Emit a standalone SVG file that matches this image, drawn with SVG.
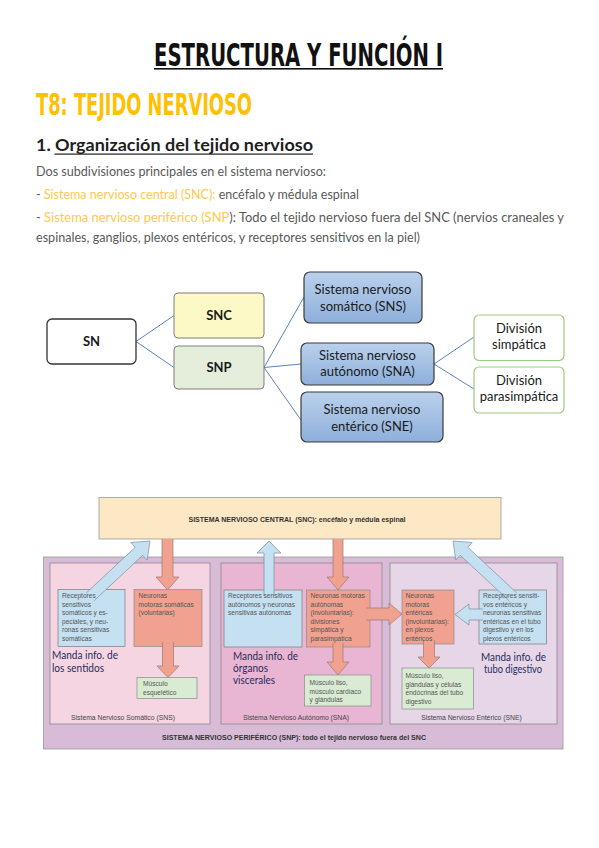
<svg xmlns="http://www.w3.org/2000/svg" width="599" height="848" viewBox="0 0 599 848">
<defs>
  <linearGradient id="blueGrad" x1="0" y1="0" x2="0" y2="1">
    <stop offset="0" stop-color="#BAD1EC"/>
    <stop offset="1" stop-color="#8EAFDB"/>
  </linearGradient>
  <style>
    .title{font-family:"DejaVu Sans Condensed","DejaVu Sans",sans-serif;font-weight:bold;}
    .body{font-family:Lato,"Liberation Sans",sans-serif;font-size:12.5px;fill:#5a5a5a;}
    .orange{fill:#FFC94D;}
    .head{font-family:Lato,"Liberation Sans",sans-serif;font-size:17.5px;font-weight:bold;fill:#1e1e1e;}
    .n1{font-family:Lato,"Liberation Sans",sans-serif;font-size:13px;fill:#1a1a1a;text-anchor:middle;}
    .b{font-weight:bold;}
    .conn{stroke:#5B83BF;stroke-width:1;fill:none;}
    .bluebox{fill:url(#blueGrad);stroke:#3b3b3b;stroke-width:1.2;}
    .divbox{fill:#ffffff;stroke:#9DCC7E;stroke-width:1.2;}
    .tiny{font-family:"Liberation Sans",Arial,sans-serif;font-size:6.6px;fill:#555;}
    .lbl{font-family:"Liberation Sans",Arial,sans-serif;font-size:6.8px;fill:#444;text-anchor:middle;}
    .big{font-family:"Liberation Sans",Arial,sans-serif;font-size:6.8px;font-weight:bold;fill:#333;}
    .manda{font-family:Lato,"Liberation Sans",sans-serif;font-size:11px;fill:#1F2D5C;}
    .rec{fill:#C4E0F1;stroke:#7a7a7a;stroke-width:0.7;}
    .mot{fill:#F0A190;stroke:#8a8a8a;stroke-width:0.7;}
    .mus{fill:#DAEBD3;stroke:#8a8a8a;stroke-width:0.7;}
    .arB{fill:#C4E0F1;stroke:#7d8e9a;stroke-width:0.7;}
    .arS{fill:#F0A190;stroke:#9a7a72;stroke-width:0.7;}
  </style>
</defs>
<rect width="599" height="848" fill="#ffffff"/>

<g id="header">
  <text class="title" x="154" y="66" font-size="32" fill="#111" textLength="289" lengthAdjust="spacingAndGlyphs">ESTRUCTURA Y FUNCIÓN I</text>
  <rect x="154" y="68" width="289" height="1.6" fill="#111"/>
  <text class="title" x="36" y="115" font-size="30" fill="#FFC000" textLength="216" lengthAdjust="spacingAndGlyphs">T8: TEJIDO NERVIOSO</text>
  <text class="head" x="36" y="151" textLength="277" lengthAdjust="spacingAndGlyphs">1. Organización del tejido nervioso</text>
  <rect x="54.5" y="153.5" width="258.5" height="1.2" fill="#1e1e1e"/>
  <text class="body" x="36" y="176" textLength="290" lengthAdjust="spacingAndGlyphs">Dos subdivisiones principales en el sistema nervioso:</text>
  <text class="body" x="36" y="199" textLength="323" lengthAdjust="spacingAndGlyphs">- <tspan class="orange">Sistema nervioso central (SNC):</tspan> encéfalo y médula espinal</text>
  <text class="body" x="36" y="222" textLength="528" lengthAdjust="spacingAndGlyphs">- <tspan class="orange">Sistema nervioso periférico (SNP</tspan>): Todo el tejido nervioso fuera del SNC (nervios craneales y</text>
  <text class="body" x="36" y="242" textLength="384" lengthAdjust="spacingAndGlyphs">espinales, ganglios, plexos entéricos, y receptores sensitivos en la piel)</text>
</g>

<g id="connectors-tree">
  <path class="conn" d="M136,341.5 L174,315.5"/>
  <path class="conn" d="M136,341.5 L174,367.5"/>
  <path class="conn" d="M264,367.5 L304,297"/>
  <path class="conn" d="M264,367.5 L301,364"/>
  <path class="conn" d="M264,367.5 L301,420"/>
  <path class="conn" d="M434,364 L474,337"/>
  <path class="conn" d="M434,364 L474,389"/>
</g>

<g id="node-SN">
  <rect x="47" y="319" width="89" height="45" rx="5" fill="#ffffff" stroke="#333" stroke-width="1.3"/>
  <text class="n1 b" x="91.5" y="346">SN</text>
</g>
<g id="node-SNC">
  <rect x="174" y="293" width="90" height="45" rx="4" fill="#FCF9C6" stroke="#7f7f7f" stroke-width="1"/>
  <text class="n1 b" x="219" y="320">SNC</text>
</g>
<g id="node-SNP">
  <rect x="174" y="346" width="90" height="43" rx="4" fill="#E4EEDB" stroke="#7f7f7f" stroke-width="1"/>
  <text class="n1 b" x="219" y="372">SNP</text>
</g>
<g id="node-SNS">
  <rect class="bluebox" x="304" y="272" width="118" height="51" rx="6"/>
  <text class="n1" x="363" y="294">Sistema nervioso</text>
  <text class="n1" x="363" y="311">somático (SNS)</text>
</g>
<g id="node-SNA">
  <rect class="bluebox" x="301" y="343" width="133" height="42" rx="6"/>
  <text class="n1" x="367.5" y="360">Sistema nervioso</text>
  <text class="n1" x="367.5" y="376">autónomo (SNA)</text>
</g>
<g id="node-SNE">
  <rect class="bluebox" x="301" y="392" width="142" height="50" rx="6"/>
  <text class="n1" x="372" y="414">Sistema nervioso</text>
  <text class="n1" x="372" y="431">entérico (SNE)</text>
</g>
<g id="node-simpatica">
  <rect class="divbox" x="474" y="315" width="90" height="45.5" rx="5"/>
  <text class="n1" x="519" y="333">División</text>
  <text class="n1" x="519" y="349">simpática</text>
</g>
<g id="node-parasimpatica">
  <rect class="divbox" x="474" y="367" width="90" height="46" rx="5"/>
  <text class="n1" x="519" y="385">División</text>
  <text class="n1" x="519" y="401">parasimpática</text>
</g>

<g id="figure2-frames">
  <rect x="99" y="497.5" width="402" height="41.5" fill="#FDE8C5" stroke="#9a9a9a" stroke-width="0.8"/>
  <text class="big" x="188.5" y="521.5" textLength="217" lengthAdjust="spacingAndGlyphs">SISTEMA NERVIOSO CENTRAL (SNC): encéfalo y médula espinal</text>
  <rect x="43.5" y="557" width="519.5" height="192" fill="#D7BBD7" stroke="#9a9a9a" stroke-width="0.8"/>
  <rect x="50" y="563" width="160" height="161" fill="#F6D5E3" stroke="#8a8a8a" stroke-width="0.8"/>
  <rect x="221" y="563" width="161" height="161" fill="#E8B6D2" stroke="#8a8a8a" stroke-width="0.8"/>
  <rect x="390" y="563" width="167" height="161" fill="#E6D6E8" stroke="#8a8a8a" stroke-width="0.8"/>
</g>

<g id="fig2-boxes">
  <rect class="rec" x="58" y="589.5" width="67" height="57"/>
  <rect class="mot" x="134" y="589.5" width="68" height="57"/>
  <rect class="mus" x="137" y="677.5" width="60" height="21"/>
  <rect class="rec" x="224" y="590" width="78" height="57"/>
  <rect class="mot" x="306.5" y="590" width="63.5" height="57"/>
  <rect class="mus" x="304.5" y="675" width="66.5" height="31"/>
  <rect class="mot" x="402" y="590" width="52" height="54"/>
  <rect class="rec" x="479" y="590" width="67.5" height="54"/>
  <rect class="mus" x="402" y="668" width="71.5" height="41"/>
</g>

<g id="fig2-arrows">
  <path class="arB" d="M86.25,592.98 L135.28,547.21 L130.85,542.46 L150,541 L147.21,560 L142.78,555.25 L93.75,601.02"/>
  <path class="arS" d="M162,539 L162,577 L156,577 L167.5,590 L179,577 L173,577 L173,539"/>
  <path class="arB" d="M264,596 L264,553 L257,553 L269,541 L281,553 L274,553 L274,596"/>
  <path class="arS" d="M333,539 L333,577 L327,577 L338,590 L349,577 L343,577 L343,539"/>
  <path class="arB" d="M516.75,592.98 L467.72,547.21 L472.15,542.46 L453,541 L455.79,560 L460.22,555.25 L509.25,601.02"/>
  <path class="arS" d="M366,608 L389,608 L389,603 L402,614 L389,625 L389,620 L366,620"/>
  <path class="arB" d="M483,609 L469,609 L469,604 L455,614.5 L469,625 L469,620 L483,620"/>
  <path class="arS" d="M162.5,642 L162.5,666 L157,666 L168,677.5 L179,666 L173.5,666 L173.5,642"/>
  <path class="arS" d="M333,643 L333,662 L327,662 L338,675 L349,662 L343,662 L343,643"/>
  <path class="arS" d="M423.5,640 L423.5,657 L418,657 L429,668 L440,657 L434.5,657 L434.5,640"/>
</g>

<g id="fig2-texts">
  <text class="tiny" x="62" y="598"><tspan x="62">Receptores</tspan><tspan x="62" dy="8.5">sensitivos</tspan><tspan x="62" dy="8.5">somáticos y es-</tspan><tspan x="62" dy="8.5">peciales, y neu-</tspan><tspan x="62" dy="8.5">ronas sensitivas</tspan><tspan x="62" dy="8.5">somáticas</tspan></text>
  <text class="tiny" x="138.5" y="598"><tspan x="138.5">Neuronas</tspan><tspan x="138.5" dy="8.5">motoras somáticas</tspan><tspan x="138.5" dy="8.5">(voluntarias)</tspan></text>
  <text class="tiny" x="143" y="686"><tspan x="143">Músculo</tspan><tspan x="143" dy="8.5">esquelético</tspan></text>
  <text class="tiny" x="228" y="598"><tspan x="228">Receptores sensitivos</tspan><tspan x="228" dy="8.5">autónomos y neuronas</tspan><tspan x="228" dy="8.5">sensitivas autónomas</tspan></text>
  <text class="tiny" x="310.5" y="598"><tspan x="310.5">Neuronas motoras</tspan><tspan x="310.5" dy="8.5">autónomas</tspan><tspan x="310.5" dy="8.5">(involuntarias):</tspan><tspan x="310.5" dy="8.5">divisiones</tspan><tspan x="310.5" dy="8.5">simpática y</tspan><tspan x="310.5" dy="8.5">parasimpática</tspan></text>
  <text class="tiny" x="309.5" y="685"><tspan x="309.5">Músculo liso,</tspan><tspan x="309.5" dy="8.5">músculo cardíaco</tspan><tspan x="309.5" dy="8.5">y glándulas</tspan></text>
  <text class="tiny" x="405.5" y="598"><tspan x="405.5">Neuronas</tspan><tspan x="405.5" dy="8.5">motoras</tspan><tspan x="405.5" dy="8.5">entéricas</tspan><tspan x="405.5" dy="8.5">(involuntarias):</tspan><tspan x="405.5" dy="8.5">en plexos</tspan><tspan x="405.5" dy="8.5">entéricos</tspan></text>
  <text class="tiny" x="483" y="598"><tspan x="483">Receptores sensiti-</tspan><tspan x="483" dy="8.5">vos entéricos y</tspan><tspan x="483" dy="8.5">neuronas sensitivas</tspan><tspan x="483" dy="8.5">entéricas en el tubo</tspan><tspan x="483" dy="8.5">digestivo y en los</tspan><tspan x="483" dy="8.5">plexos entéricos</tspan></text>
  <text class="tiny" x="405.5" y="678"><tspan x="405.5">Músculo liso,</tspan><tspan x="405.5" dy="8.5">glándulas y células</tspan><tspan x="405.5" dy="8.5">endócrinas del tubo</tspan><tspan x="405.5" dy="8.5">digestivo</tspan></text>

  <text class="manda" x="52" y="659" textLength="66" lengthAdjust="spacingAndGlyphs">Manda info. de</text>
  <text class="manda" x="52" y="671.5" textLength="52" lengthAdjust="spacingAndGlyphs">los sentidos</text>
  <text class="manda" x="233" y="659.5" textLength="65" lengthAdjust="spacingAndGlyphs">Manda info. de</text>
  <text class="manda" x="233" y="671.8" textLength="35" lengthAdjust="spacingAndGlyphs">órganos</text>
  <text class="manda" x="233" y="684" textLength="42" lengthAdjust="spacingAndGlyphs">viscerales</text>
  <text class="manda" x="481" y="661" textLength="65" lengthAdjust="spacingAndGlyphs">Manda info. de</text>
  <text class="manda" x="484" y="673.3" textLength="58" lengthAdjust="spacingAndGlyphs">tubo digestivo</text>

  <text class="lbl" x="123" y="720">Sistema Nervioso Somático (SNS)</text>
  <text class="lbl" x="296" y="720">Sistema Nervioso Autónomo (SNA)</text>
  <text class="lbl" x="471.5" y="720">Sistema Nervioso Entérico (SNE)</text>
  <text class="big" x="162" y="740" textLength="264" lengthAdjust="spacingAndGlyphs">SISTEMA NERVIOSO PERIFÉRICO (SNP): todo el tejido nervioso fuera del SNC</text>
</g>
</svg>
